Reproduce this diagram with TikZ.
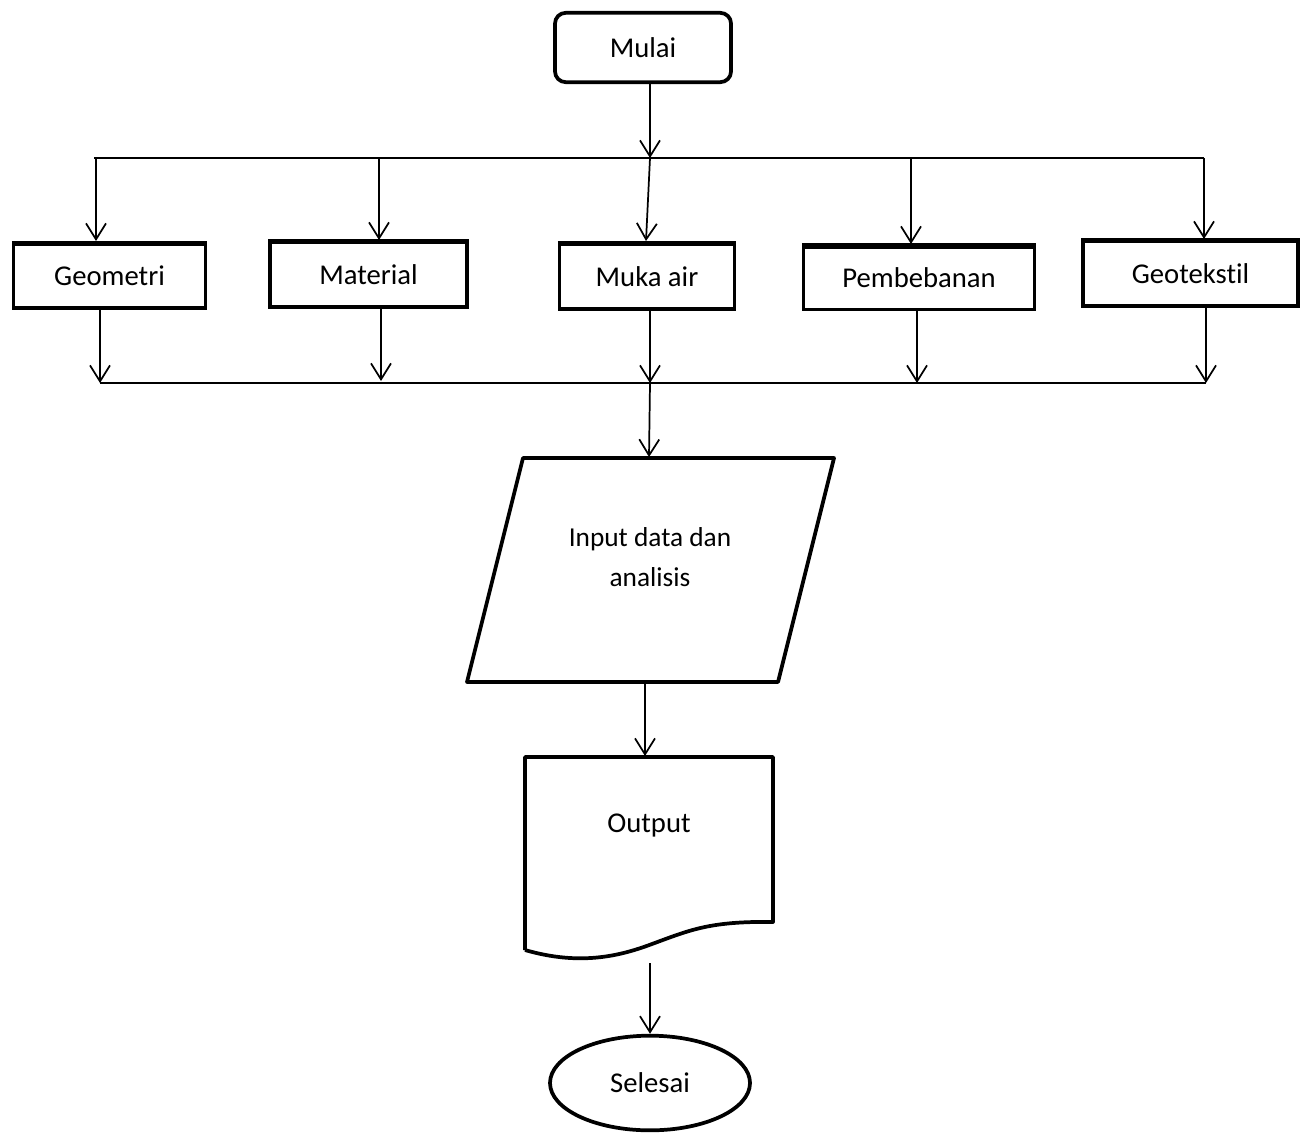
\documentclass[tikz,border=0pt]{standalone}
\usepackage{fontspec}
\setmainfont[Ligatures=NoCommon]{Carlito}
\usetikzlibrary{arrows.meta,shapes.geometric}
\begin{document}
\begin{tikzpicture}[x=0.75pt,y=-0.75pt,
  every node/.style={font=\fontsize{21.5}{30}\selectfont, inner sep=0pt},
  conn/.style={line width=1.3pt,-{Straight Barb[length=12pt,width=15pt,line width=1.3pt]}},
  bus/.style={line width=1.3pt},
  boxst/.style={draw,line width=2.6pt,rectangle},
  thicktop/.style={line width=4.2pt},
  shapeline/.style={line width=2.8pt,line join=round}]
\useasboundingbox (0,0) rectangle (1301,1134);
% start
\node[draw,line width=2.8pt,rounded corners=8pt,minimum width=132pt,minimum height=52pt] (mulai) at (643,47.5) {Mulai};
% inputs
\node[boxst,minimum width=144pt,minimum height=48pt] (geo) at (109.5,276) {Geometri};
\node[boxst,minimum width=148pt,minimum height=49pt] (mat) at (368.5,274.5) {Material};
\node[boxst,minimum width=131pt,minimum height=49pt] (muka) at (647,276.5) {Muka air};
\node[boxst,minimum width=173pt,minimum height=47pt] (pem) at (919,278) {Pembebanan};
\node[boxst,minimum width=161pt,minimum height=49pt] (gtx) at (1190.5,273.5) {Geotekstil};
\foreach \n in {geo,mat,muka,pem,gtx}{
  \draw[thicktop] ([yshift=-0.9pt]\n.north west) -- ([yshift=-0.9pt]\n.north east);}
% top bus
\coordinate (tb1) at (94,158);
\coordinate (tb2) at (1204,158);
\coordinate (tbm) at (650,158);
\draw[bus] (tb1) -- (tb2);
\draw[conn] (mulai.south -| tbm) -- (tbm);
\draw[conn] (96,158) -- (96,241);
\draw[conn] (379,158) -- (379,240);
\draw[conn] (tbm) -- (646,241);
\draw[conn] (911,158) -- (911,244);
\draw[conn] (1204,158) -- (1204,239);
% bottom bus
\coordinate (bb1) at (100,383);
\coordinate (bb2) at (1206,383);
\coordinate (bbm) at (650,383);
\draw[bus] (bb1) -- (bb2);
\draw[conn] (geo.south -| bb1) -- (bb1);
\draw[conn] (381,309) -- (381,381);
\draw[conn] (650,310) -- (bbm);
\draw[conn] (917,311) -- (917,383);
\draw[conn] (gtx.south -| bb2) -- (bb2);
% parallelogram
\coordinate (p1) at (523,458);
\coordinate (p2) at (834,458);
\coordinate (p3) at (778,682);
\coordinate (p4) at (467,682);
\draw[shapeline] (p1) -- (p2) -- (p3) -- (p4) -- cycle;
\node[align=center,font=\fontsize{20.5}{30}\selectfont] (inp) at (650,557) {Input data dan\\analisis};
\draw[conn] (bbm) -- (649,457);
% document
\coordinate (d1) at (525,757);
\coordinate (d2) at (773,757);
\coordinate (d3) at (773,922);
\coordinate (d4) at (525,950);
\draw[shapeline] (d4) -- (d1) -- (d2) -- (d3)
  .. controls (710,921) and (690,930) .. (652,944)
  .. controls (620,956) and (580,966) .. (d4);
\node (outp) at (649,825) {Output};
\draw[conn] (645,682) -- (645,756);
% end
\node[draw,ellipse,line width=2.8pt,minimum width=150pt,minimum height=71pt] (sel) at (650,1083) {Selesai};
\draw[conn] (650,963) -- (sel.north);
\end{tikzpicture}
\end{document}
